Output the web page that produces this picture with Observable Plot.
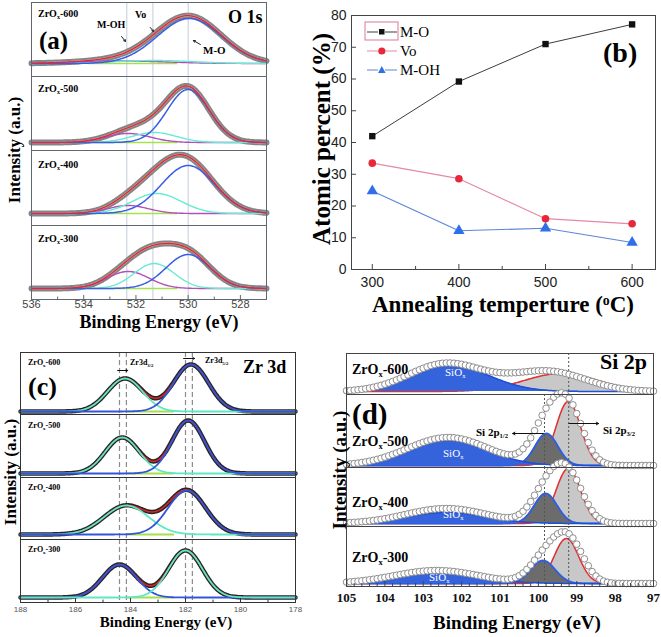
<!DOCTYPE html>
<html><head><meta charset="utf-8">
<script src="https://cdn.jsdelivr.net/npm/d3@7"></script>
<script src="https://cdn.jsdelivr.net/npm/@observablehq/plot@0.6"></script>
<style>
html,body{margin:0;padding:0;background:#fff;}
#root{position:relative;width:661px;height:637px;overflow:hidden;background:#fff;}
.p{position:absolute;}
.p svg{overflow:visible;}
.t{position:absolute;white-space:nowrap;line-height:1;}
.t sub{font-size:0.6em;vertical-align:baseline;position:relative;top:0.32em;}
.t sup{font-size:0.6em;vertical-align:baseline;position:relative;top:-0.5em;}
</style></head><body><div id="root"></div>
<script>
// ================= DATA =================
// Sample names (top to bottom in each stacked panel)
const samples = ["600", "500", "400", "300"];

// (a) O 1s fitted components per sample: [center eV, height a.u., FWHM eV]
const o1sMO  = [[529.95, 45, 2.9], [530.0, 53, 1.9], [530.0, 48, 2.4], [530.0, 34, 2.0]];
const o1sVo  = [[531.3, 3, 3.5], [531.3, 10, 2.0], [531.2, 20, 2.2], [531.3, 25, 1.8]];
const o1sMOH = [[532.5, 2.5, 4.0], [532.3, 9, 2.0], [532.3, 8, 1.8], [532.3, 17, 1.9]];
const o1sTicks = [536, 534, 532, 530, 528];
const o1sMinorTicks = [535, 533, 531, 529, 527];
const o1sRefLines = [532.35, 531.35, 530.0];

// (b) atomic percent vs annealing temperature
const temps = [300, 400, 500, 600];
const atomicMO  = [42.0, 59.2, 71.0, 77.2];
const atomicVo  = [33.5, 28.6, 16.0, 14.4];
const atomicMOH = [24.7, 12.2, 13.0, 8.5];
const tempTicks = [300, 400, 500, 600];
const tempMinorTicks = [350, 450, 550];
const percentTicks = [0, 10, 20, 30, 40, 50, 60, 70, 80];

// (c) Zr 3d fitted components: [center eV, height a.u., FWHM eV]
const zr52 = [[181.8, 47, 1.5], [181.9, 53, 1.4], [181.95, 44, 1.6], [182.0, 47, 1.45]];
const zr32 = [[184.2, 33, 1.5], [184.3, 36, 1.45], [184.15, 29, 1.9], [184.4, 33, 1.45]];
const zrTicks = [188, 186, 184, 182, 180, 178];
const zrMinorTicks = [187, 185, 183, 181, 179];
const zrDashLines = [184.4, 184.15, 182.0, 181.75];

// (d) Si 2p fitted components: [center eV, height a.u., FWHM eV]
const siSiOx = [[102.3, 26, 2.4], [102.35, 25, 2.4], [102.4, 11, 2.4], [102.65, 10, 2.6]];
const si2p12 = [null, [99.79, 32, 0.7], [99.81, 30, 0.7], [99.88, 23, 0.75]];
const si2p32 = [[99.4, 18, 2.3], [99.22, 64, 0.75], [99.22, 55, 0.75], [99.27, 45, 0.75]];
// (d) measured spectrum (open circles), read as peak shapes: [center eV, height a.u., FWHM eV]
const siMeasHigh = [[102.4, 28, 2.3], [102.35, 28, 2.5], [102.4, 15, 2.5], [102.65, 13, 2.6]];
const siMeasMain = [[99.75, 20, 2.3], [99.22, 56, 0.9], [99.22, 47, 0.9], [99.22, 44, 0.9]];
const siMeasShoulder = [null, [99.8, 38, 0.9], [99.8, 32, 0.9], [99.85, 24, 0.9]];
const siTicks = [105, 104, 103, 102, 101, 100, 99, 98, 97];
const siRefLines = [99.84, 99.21];

// ================= HELPERS =================
const root = document.getElementById("root");
const LN = 4 * Math.LN2;
const gauss = (x, [c, h, w]) => h * Math.exp(-LN * (x - c) * (x - c) / (w * w));
const curve = (xs, peaks) => xs.map(x => ({x, y: peaks.filter(Boolean).reduce((s, p) => s + gauss(x, p), 0)}));
const SERIF = '"Liberation Serif","Times New Roman",serif';
const SANS = '"Liberation Sans",Arial,sans-serif';

function place(svg, left, top, w) {
  const d = document.createElement("div");
  d.className = "p";
  d.style.left = left + "px"; d.style.top = top + "px"; d.style.width = w + "px";
  d.appendChild(svg);
  root.appendChild(d);
}
function lab(html, x, y, o = {}) {
  const d = document.createElement("div");
  d.className = "t";
  d.innerHTML = html;
  d.style.left = x + "px"; d.style.top = y + "px";
  d.style.fontSize = (o.size || 12) + "px";
  d.style.fontWeight = o.normal ? "normal" : "bold";
  d.style.fontFamily = o.sans ? SANS : SERIF;
  d.style.color = o.color || "#000";
  const ax = o.anchor === "middle" ? "-50%" : o.anchor === "end" ? "-100%" : "0";
  d.style.transform = `translate(${ax},-50%)` + (o.rotate ? ` rotate(${o.rotate}deg)` : "");
  root.appendChild(d);
}
function sub({x0, x1, top, bottom, base, domain, marks, frame, axis}) {
  const w = x1 - x0, h = bottom - top;
  const mb = axis ? axis.space : 0;
  const all = [...marks, Plot.frame({stroke: frame, strokeWidth: 1})];
  if (axis) {
    all.push(Plot.ruleX(axis.major, {x: d => d, insetTop: h - axis.len, stroke: frame}));
    if (axis.minor) all.push(Plot.ruleX(axis.minor, {x: d => d, insetTop: h - axis.len * 0.6, stroke: frame}));
    all.push(Plot.axisX({ticks: axis.labels, tickSize: 0, tickPadding: axis.pad, label: null}));
  }
  const svg = Plot.plot({
    width: w + 2, height: h + 2 + mb,
    marginLeft: 1, marginRight: 1, marginTop: 1, marginBottom: 1 + mb,
    x: axis ? {domain} : {domain, axis: null},
    y: {domain: [-(bottom - base), base - top], axis: null},
    style: {background: "transparent", overflow: "visible",
      fontFamily: axis ? axis.family : SANS, fontSize: (axis ? axis.size : 10) + "px",
      fontWeight: axis && axis.bold ? "bold" : "normal", color: axis ? axis.color : "#000"},
    marks: all
  });
  place(svg, x0 - 1, top - 1, w + 2);
}

// ================= PANEL (a) O 1s =================
{
  const tops = [2, 76, 150, 225], bottoms = [76, 150, 225, 299], bases = [63, 142, 213, 288];
  const xs = d3.range(536, 526.99, -0.05);
  samples.forEach((s, i) => {
    const env = curve(xs, [o1sMO[i], o1sVo[i], o1sMOH[i]]);
    const marks = [
      Plot.ruleX(o1sRefLines, {x: d => d, stroke: "#c3ccd8", strokeWidth: 1}),
      Plot.ruleY([0], {x1: 533.8, x2: 530.4, stroke: "#a4e34c", strokeWidth: 1.5}),
      Plot.line(env, {x: "x", y: "y", stroke: "#858585", strokeWidth: 6}),
      Plot.line(env, {x: "x", y: "y", stroke: "#c4c4c4", strokeWidth: 2}),
      Plot.line(curve(xs, [o1sMOH[i]]), {x: "x", y: "y", stroke: "#b24fba", strokeWidth: 1.4}),
      Plot.line(curve(xs, [o1sVo[i]]), {x: "x", y: "y", stroke: "#66ecd2", strokeWidth: 1.4}),
      Plot.line(curve(xs, [o1sMO[i]]), {x: "x", y: "y", stroke: "#3a5ce6", strokeWidth: 1.5}),
      Plot.line(env, {x: "x", y: "y", stroke: "#e8262e", strokeWidth: 1.4})
    ];
    if (i === 0) {
      marks.push(
        Plot.arrow([0], {x1: 532.55, y1: 27, x2: 532.4, y2: 22, headLength: 3, strokeWidth: 1, stroke: "#222"}),
        Plot.arrow([0], {x1: 531.45, y1: 36, x2: 531.33, y2: 32, headLength: 3, strokeWidth: 1, stroke: "#222"}),
        Plot.arrow([0], {x1: 529.53, y1: 19, x2: 529.8, y2: 23, headLength: 3, strokeWidth: 1, stroke: "#222"})
      );
    }
    sub({x0: 31, x1: 266, top: tops[i], bottom: bottoms[i], base: bases[i], domain: [536, 527], marks,
      frame: "#5f6770",
      axis: i === 3 ? {major: o1sTicks, minor: o1sMinorTicks, labels: o1sTicks, len: 4, pad: 1, space: 12,
        family: SANS, size: 11, color: "#444"} : null});
  });
  [["600", 14], ["500", 89], ["400", 165], ["300", 239]].forEach(([s, y]) =>
    lab(`ZrO<sub>x</sub>-${s}`, 38, y, {size: 10}));
  lab("(a)", 39, 40, {size: 25});
  lab("O 1s", 228, 17, {size: 18});
  lab("M-OH", 97, 25, {size: 10});
  lab("Vo", 135, 15, {size: 10});
  lab("M-O", 203, 50, {size: 11});
  lab("Intensity (a.u.)", 14, 150, {size: 17, anchor: "middle", rotate: -90});
  lab("Binding Energy (eV)", 159, 322, {size: 18, anchor: "middle"});
}

// ================= PANEL (b) =================
{
  const W = 331, H = 300, ml = 21, mr = 6, mt = 15, mb = 31;
  const iw = W - ml - mr, ih = H - mt - mb;
  const rows = (vals) => temps.map((t, k) => ({t, v: vals[k]}));
  const svg = Plot.plot({
    width: W, height: H, marginLeft: ml, marginRight: mr, marginTop: mt, marginBottom: mb,
    x: {domain: [276, 627]}, y: {domain: [0, 80]},
    style: {background: "transparent", overflow: "visible", fontFamily: SANS, fontSize: "14px", color: "#222"},
    marks: [
      Plot.frame({stroke: "#444"}),
      Plot.ruleX(tempTicks, {x: d => d, insetTop: ih - 5, stroke: "#444"}),
      Plot.ruleX(tempMinorTicks, {x: d => d, insetTop: ih - 3, stroke: "#444"}),
      Plot.ruleY(percentTicks, {y: d => d, insetRight: iw - 5, stroke: "#444"}),
      Plot.axisX({ticks: tempTicks, tickSize: 0, tickPadding: 8, label: null}),
      Plot.axisY({ticks: percentTicks, tickSize: 0, tickPadding: 5, label: null}),
      Plot.line(rows(atomicMO), {x: "t", y: "v", stroke: "#3d3d3d", strokeWidth: 1}),
      Plot.line(rows(atomicVo), {x: "t", y: "v", stroke: "#e48aa2", strokeWidth: 1.2}),
      Plot.line(rows(atomicMOH), {x: "t", y: "v", stroke: "#5d86d8", strokeWidth: 1.2}),
      Plot.dot(rows(atomicMO), {x: "t", y: "v", symbol: "square", fill: "#111", r: 3.6}),
      Plot.dot(rows(atomicVo), {x: "t", y: "v", symbol: "circle", fill: "#e8283a", r: 3.8}),
      Plot.dot(rows(atomicMOH), {x: "t", y: "v", symbol: "triangle", fill: "#2f6fe8", r: 4.2})
    ]
  });
  place(svg, 330, 0, W);
  // legend
  const lg = document.createElement("div");
  lg.className = "p"; lg.style.left = "362px"; lg.style.top = "20px";
  lg.innerHTML = `<svg width="40" height="60" style="overflow:visible">
    <rect x="3" y="2" width="33" height="18" fill="none" stroke="#d9789a"/>
    <line x1="5" x2="16" y1="12" y2="12" stroke="#3d3d3d"/><line x1="23" x2="35" y1="12" y2="12" stroke="#3d3d3d"/>
    <rect x="17" y="9" width="5.5" height="5.5" fill="#111"/>
    <line x1="5" x2="16" y1="31" y2="31" stroke="#e48aa2"/><line x1="23" x2="35" y1="31" y2="31" stroke="#e48aa2"/>
    <circle cx="19.8" cy="31" r="3.6" fill="#e8283a"/>
    <line x1="5" x2="16" y1="50" y2="50" stroke="#5d86d8"/><line x1="23" x2="35" y1="50" y2="50" stroke="#5d86d8"/>
    <path d="M19.8,46 L23.6,53 L16,53 Z" fill="#2f6fe8"/></svg>`;
  root.appendChild(lg);
  lab("M-O", 400, 32, {size: 15, normal: true});
  lab("Vo", 400, 51, {size: 15, normal: true});
  lab("M-OH", 400, 70, {size: 15, normal: true});
  lab("(b)", 603, 53, {size: 28});
  lab("Atomic percent (%)", 321, 139, {size: 25, anchor: "middle", rotate: -90});
  lab("Annealing temperture (<sup>o</sup>C)", 503, 304, {size: 23, anchor: "middle"});
}

// ================= PANEL (c) Zr 3d =================
{
  const tops = [352, 414, 477, 539], bottoms = [414, 477, 539, 602], bases = [411, 473, 534, 597];
  const xs = d3.range(188, 177.99, -0.04);
  samples.forEach((s, i) => {
    const env = curve(xs, [zr52[i], zr32[i]]);
    const c52 = i === 3 ? "#5fe6c4" : "#3454dc";
    const c32 = i === 3 ? "#3454dc" : "#5fe6c4";
    const marks = [
      Plot.ruleX(zrDashLines, {x: d => d, stroke: "#8c8c8c", strokeWidth: 1.2, strokeDasharray: "5,3"}),
      Plot.ruleY([0], {x1: 184.1, x2: 182.4, stroke: "#a4e04a", strokeWidth: 2}),
      Plot.line(env, {x: "x", y: "y", stroke: "#262626", strokeWidth: 4.5}),
      Plot.line(env, {x: "x", y: "y", stroke: "#e02424", strokeWidth: 1.5}),
      Plot.line(curve(xs, [zr32[i]]), {x: "x", y: "y", stroke: c32, strokeWidth: 1.8}),
      Plot.line(curve(xs, [zr52[i]]), {x: "x", y: "y", stroke: c52, strokeWidth: 1.8})
    ];
    if (i === 0) {
      marks.push(
        Plot.arrow([0], {x1: 184.47, y1: 41, x2: 184.1, y2: 41, headLength: 3, strokeWidth: 1, stroke: "#111"}),
        Plot.arrow([0], {x1: 182.07, y1: 53, x2: 181.67, y2: 53, headLength: 3, strokeWidth: 1, stroke: "#111"})
      );
    }
    sub({x0: 20, x1: 295, top: tops[i], bottom: bottoms[i], base: bases[i], domain: [188, 178], marks,
      frame: "#333",
      axis: i === 3 ? {major: zrTicks, minor: zrMinorTicks, labels: zrTicks, len: 4, pad: 4, space: 12,
        family: SANS, size: 8, color: "#555"} : null});
  });
  [["600", 363], ["500", 426], ["400", 488], ["300", 550]].forEach(([s, y]) =>
    lab(`ZrO<sub>x</sub>-${s}`, 28, y, {size: 8}));
  lab("(c)", 28, 387, {size: 26});
  lab("Zr 3d", 243, 367, {size: 18});
  lab("Zr3d<sub>3/2</sub>", 130, 363, {size: 8});
  lab("Zr3d<sub>5/2</sub>", 205, 361, {size: 8});
  lab("Intensity (a.u.)", 10, 472, {size: 17, anchor: "middle", rotate: -90});
  lab("Binding Energy (eV)", 166, 622, {size: 15, anchor: "middle"});
}

// ================= PANEL (d) Si 2p =================
{
  const tops = [353, 394, 467, 526], bottoms = [394, 467, 526, 586], bases = [391, 465, 523, 583];
  const xs = d3.range(105, 96.99, -0.02);
  const xc = d3.range(105, 96.95, -0.1);
  samples.forEach((s, i) => {
    const marks = [
      Plot.areaY(curve(xs, [si2p32[i]]), {x: "x", y: "y", fill: "#c8c8c8"}),
      Plot.line(curve(xs, [si2p32[i]]), {x: "x", y: "y", stroke: "#e23030", strokeWidth: 1.5})
    ];
    if (si2p12[i]) marks.push(
      Plot.areaY(curve(xs, [si2p12[i]]), {x: "x", y: "y", fill: "#6c6c6c"}),
      Plot.line(curve(xs, [si2p12[i]]), {x: "x", y: "y", stroke: "#2b5de8", strokeWidth: 1.8})
    );
    marks.push(
      Plot.areaY(curve(xs, [siSiOx[i]]), {x: "x", y: "y", fill: "#3563dc"}),
      Plot.line(curve(xs, [siSiOx[i]]), {x: "x", y: "y", stroke: "#1e4fd6", strokeWidth: 1.5}),
      Plot.ruleX(i === 0 ? siRefLines.slice(1) : siRefLines, {x: d => d, stroke: "#555", strokeWidth: 1, strokeDasharray: "2,2"}),
      Plot.dot(curve(xc, [siMeasHigh[i], siMeasMain[i], siMeasShoulder[i]]), {x: "x", y: "y", r: 3.3, fill: "white", stroke: "#8d8d8d", strokeWidth: 1})
    );
    if (i === 1) marks.push(
      Plot.arrow([0], {x1: 99.87, y1: 32, x2: 100.67, y2: 32, headLength: 4, strokeWidth: 1, stroke: "#111"}),
      Plot.arrow([0], {x1: 99.2, y1: 42, x2: 98.43, y2: 42, headLength: 4, strokeWidth: 1, stroke: "#111"})
    );
    sub({x0: 346, x1: 653, top: tops[i], bottom: bottoms[i], base: bases[i], domain: [105, 97], marks,
      frame: "#444",
      axis: i === 3 ? {major: siTicks, minor: d3.range(97.2, 105, 0.2).filter(v => Math.abs(v - Math.round(v)) > 0.05),
        labels: siTicks, len: 5, pad: 6.5, space: 18, family: SERIF, size: 13, bold: true, color: "#111"} : null});
  });
  [["600", 370], ["500", 442], ["400", 503], ["300", 558]].forEach(([s, y]) =>
    lab(`ZrO<sub>x</sub>-${s}`, 352, y, {size: 14}));
  lab("Si 2p", 600, 362, {size: 22});
  lab("(d)", 352, 414, {size: 29});
  [[445, 372], [443, 453], [443, 514], [429, 577]].forEach(([x, y]) =>
    lab("SiO<sub>x</sub>", x, y, {size: 11, normal: true, color: "#fff"}));
  lab("Si 2p<sub>1/2</sub>", 476, 432, {size: 11});
  lab("Si 2p<sub>3/2</sub>", 603, 430, {size: 11});
  lab("Intensity (a.u.)", 339, 470, {size: 19, anchor: "middle", rotate: -90});
  lab("Binding Energy (eV)", 517, 622, {size: 19, anchor: "middle"});
}
</script></body></html>
